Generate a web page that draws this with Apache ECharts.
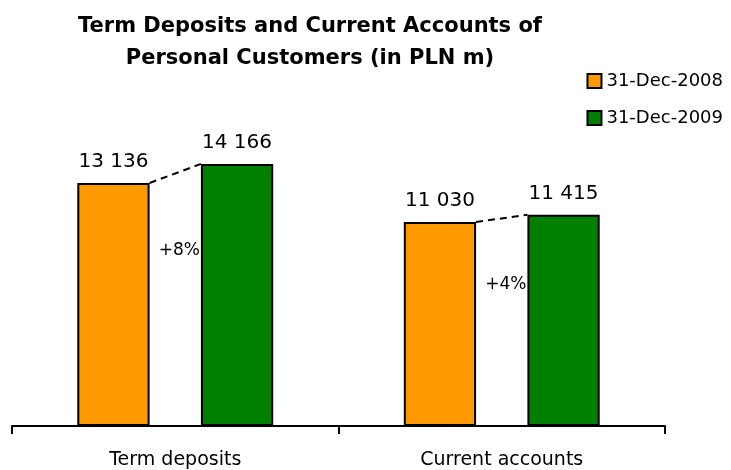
<!DOCTYPE html>
<html>
<head>
<meta charset="utf-8">
<script src="https://cdn.jsdelivr.net/npm/echarts@6/dist/echarts.min.js"></script>
<style>
html, body { margin: 0; padding: 0; background: #fff; }
#main { width: 731px; height: 470px; }
</style>
</head>
<body>
<div id="main"></div>
<script>
// 数据
var categories = ['Term deposits', 'Current accounts'];
var seriesNames = ['31-Dec-2008', '31-Dec-2009'];
var values2008 = [13136, 11030];
var values2009 = [14166, 11415];
var changeLabels = ['+8%', '+4%'];

var FONT = 'DejaVu Sans';
var CAT_GAP = 0.40, BAR_GAP = 0.71;

function fmt(v) {
    return String(v).replace(/\B(?=(\d{3})+(?!\d))/g, ' ');
}

var linkData = categories.map(function (c, i) {
    return [i, values2008[i], values2009[i]];
});

/*
 虚线连接 + 百分比
 * */
function renderLink(params, api) {
    var idx = api.value(0);
    var a = api.value(1), b = api.value(2);
    var center = api.coord([idx, 0]);
    var band = api.size([1, 0])[0];
    var used = band * (1 - CAT_GAP);
    var barW = used / (2 + BAR_GAP);
    var x1 = center[0] - used / 2 + barW;
    var x2 = center[0] + used / 2 - barW;
    var y1 = api.coord([idx, a])[1];
    var y2 = api.coord([idx, b])[1];
    var base = center[1];
    return {
        type: 'group',
        children: [
            {
                type: 'line',
                shape: { x1: x1, y1: y1, x2: x2, y2: y2 },
                style: { stroke: '#000', lineWidth: 2, lineDash: [7, 5] }
            },
            {
                type: 'text',
                style: {
                    text: changeLabels[params.dataIndex],
                    x: x2 - 1,
                    y: y2 + (base - y2) * 0.33,
                    align: 'right',
                    verticalAlign: 'middle',
                    font: '17px "' + FONT + '"',
                    fill: '#000'
                }
            }
        ]
    };
}

var chart = echarts.init(document.getElementById('main'));
chart.setOption({
    animation: false,
    textStyle: { fontFamily: FONT },
    title: {
        text: 'Term Deposits and Current Accounts of\nPersonal Customers (in PLN m)',
        left: 305,
        top: 6,
        textAlign: 'center',
        textStyle: { fontSize: 21, fontWeight: 'bold', color: '#000', lineHeight: 32, fontFamily: FONT }
    },
    legend: {
        data: seriesNames,
        orient: 'vertical',
        right: 3,
        top: 67,
        itemWidth: 14,
        itemHeight: 14,
        itemGap: 19,
        icon: 'rect',
        textStyle: { fontSize: 18, color: '#000', fontFamily: FONT }
    },
    grid: { left: 12, right: 66, top: 130, bottom: 43 },
    xAxis: {
        type: 'category',
        data: categories,
        axisLine: { lineStyle: { color: '#000', width: 2 } },
        axisTick: { show: true, length: 8, lineStyle: { color: '#000', width: 2 } },
        axisLabel: { fontSize: 19, color: '#000', margin: 25 }
    },
    yAxis: {
        type: 'value',
        min: 0,
        max: 16000,
        show: false,
        splitLine: { show: false }
    },
    series: [
        {
            name: seriesNames[0],
            type: 'bar',
            data: values2008,
            barCategoryGap: '40%',
            barGap: '71%',
            itemStyle: { color: '#FF9900', borderColor: '#000', borderWidth: 2 },
            label: {
                show: true, position: 'top', distance: 11,
                fontSize: 20, color: '#000',
                formatter: function (p) { return fmt(p.value); }
            }
        },
        {
            name: seriesNames[1],
            type: 'bar',
            data: values2009,
            barCategoryGap: '40%',
            barGap: '71%',
            itemStyle: { color: '#008000', borderColor: '#000', borderWidth: 2 },
            label: {
                show: true, position: 'top', distance: 11,
                fontSize: 20, color: '#000',
                formatter: function (p) { return fmt(p.value); }
            }
        },
        {
            type: 'custom',
            data: linkData,
            renderItem: renderLink,
            z: 10,
            silent: true
        }
    ]
});
</script>
</body>
</html>
